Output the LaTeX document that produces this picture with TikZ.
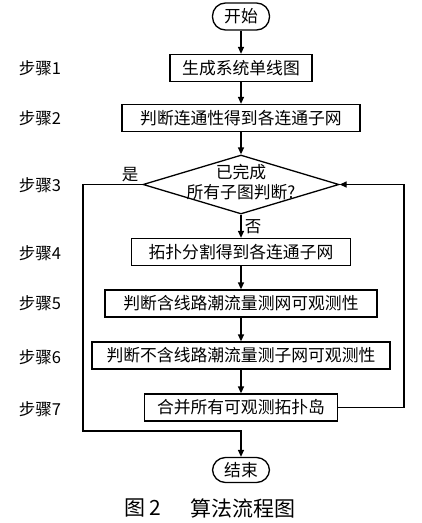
\documentclass[tikz,border=0pt]{standalone}
\usepackage{fontspec}
\setmainfont{Liberation Serif}
\newfontfamily\cjk{Noto Sans CJK SC}
\usetikzlibrary{shapes.geometric,arrows.meta}
\tikzset{
  procbox/.style={draw, rectangle, inner sep=0pt, minimum height=27pt, font=\cjk\fontsize{16.8}{18}\selectfont},
  termbox/.style={draw, rectangle, rounded corners=13pt, inner sep=0pt, minimum width=57pt, minimum height=27pt, font=\cjk\fontsize{16.8}{18}\selectfont},
  steplabel/.style={font=\cjk\fontsize{16.5}{17}\selectfont},
  flow/.style={-{Triangle[length=7pt,width=6pt]}},
}
\begin{document}
\begin{tikzpicture}[x=1pt,y=-1pt,line width=1.3pt]
\useasboundingbox (0,0) rectangle (422,523);
\node[termbox] (start) at (241,16.5) {开始};
\node[procbox, minimum width=142pt] (s1) at (241,68) {生成系统单线图};
\node[procbox, minimum width=238pt] (s2) at (241,118) {判断连通性得到各连通子网};
\node[diamond, draw, inner sep=0pt, minimum width=196pt, minimum height=59pt] (d) at (241,184.5) {};
\node[font=\cjk\fontsize{16.8}{20}\selectfont, align=center] (dt) at (241,182) {已完成\\所有子图判断?};
\node[procbox, minimum width=219pt] (s4) at (241,252) {拓扑分割得到各连通子网};
\node[procbox, minimum width=272pt] (s5) at (241,303.5) {判断含线路潮流量测网可观测性};
\node[procbox, minimum width=298pt] (s6) at (241,355.5) {判断不含线路潮流量测子网可观测性};
\node[procbox, minimum width=193pt] (s7) at (241,407.5) {合并所有可观测拓扑岛};
\node[termbox, minimum height=25pt] (end) at (241,470) {结束};
\coordinate (L) at (83,431);
\coordinate (R) at (404,184.5);
\draw[flow] (start) -- (s1);
\draw[flow] (s1) -- (s2);
\draw[flow] (s2) -- (d.north);
\draw[flow] (d.south) -- (s4);
\draw[flow] (s4) -- (s5);
\draw[flow] (s5) -- (s6);
\draw[flow] (s6) -- (s7);
\draw[flow] (d.west) -| (L) -| (end.north);
\draw[flow] (s7.east) -| (R) -- (d.east);
\node[steplabel] (yes) at (130,175) {是};
\node[steplabel] (no) at (253,227) {否};
\node[steplabel] (l1) at (40,68) {步骤1};
\node[steplabel] (l2) at (40,118) {步骤2};
\node[steplabel] (l3) at (40,185) {步骤3};
\node[steplabel] (l4) at (40,253) {步骤4};
\node[steplabel] (l5) at (40,303) {步骤5};
\node[steplabel] (l6) at (40,357) {步骤6};
\node[steplabel] (l7) at (40,409) {步骤7};
\node[font=\cjk\fontsize{21}{22}\selectfont] (cap1) at (143,508) {图\,2};
\node[font=\cjk\fontsize{21}{22}\selectfont] (cap2) at (243,508) {算法流程图};
\end{tikzpicture}
\end{document}
